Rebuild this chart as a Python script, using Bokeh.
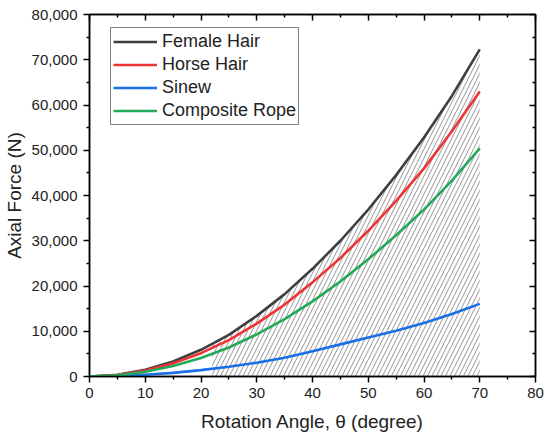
from bokeh.plotting import figure
from bokeh.models import (LinearAxis, NumeralTickFormatter, Range1d, Legend, LegendItem,
                          FixedTicker, CustomJSTickFormatter)
from bokeh.embed import file_html
from bokeh.resources import INLINE
import numpy as np

angle = [0, 5, 10, 15, 20, 25, 30, 35, 40, 45, 50, 55, 60, 65, 70]
female_hair = [0, 380, 1500, 3300, 5900, 9200, 13400, 18200, 23800, 30000, 36900, 44500, 52800, 62000, 72300]
horse_hair = [0, 330, 1300, 2900, 5150, 8050, 11700, 15900, 20800, 26200, 32200, 38800, 46000, 54200, 63000]
sinew = [0, 90, 380, 800, 1400, 2150, 3050, 4150, 5600, 7100, 8600, 10100, 11800, 13800, 16050]
composite_rope = [0, 260, 1030, 2300, 4100, 6400, 9300, 12700, 16600, 21000, 25900, 31200, 36900, 43300, 50400]
hatch_start = 22
x_ticks = [0, 10, 20, 30, 40, 50, 60, 70, 80]
y_ticks = [0, 10000, 20000, 30000, 40000, 50000, 60000, 70000, 80000]
names = ["Female Hair", "Horse Hair", "Sinew", "Composite Rope"]
colors = ["#3f3f3f", "#ee3434", "#1a6ee6", "#24a85a"]

FONT = "Liberation Sans"

p = figure(frame_width=446, frame_height=362, output_backend="svg", toolbar_location=None,
           x_range=Range1d(0, 80), y_range=Range1d(0, 80000),
           min_border_left=83, min_border_right=13, min_border_top=14, min_border_bottom=57)
p.xgrid.visible = False
p.ygrid.visible = False
p.outline_line_color = "black"
p.outline_line_width = 1.5

# hatched region under the female hair curve
hx = [hatch_start] + [a for a in angle if a > hatch_start]
hy = list(np.interp(hx, angle, female_hair))
p.varea(x=hx, y1=[0] * len(hx), y2=hy, fill_alpha=0, hatch_pattern="/",
        hatch_color="#666666", hatch_weight=0.7, hatch_scale=9)

series = [female_hair, horse_hair, sinew, composite_rope]
renderers = []
for ys, c in zip(series, colors):
    r = p.line(angle, ys, line_color=c, line_width=2.6, line_join="round")
    renderers.append(r)

for ax in (p.xaxis[0], p.yaxis[0]):
    ax.axis_line_width = 1.5
    ax.major_tick_line_width = 1.5
    ax.minor_tick_line_width = 1.5
    ax.major_tick_out = 6
    ax.major_tick_in = 0
    ax.minor_tick_out = 3
    ax.minor_tick_in = 0
    ax.major_label_text_font = FONT
    ax.major_label_text_font_size = "15px"
    ax.major_label_text_color = "#222222"
    ax.axis_label_text_font = FONT
    ax.axis_label_text_font_size = "19px"
    ax.axis_label_text_font_style = "normal"
    ax.axis_label_text_color = "#222222"

p.xaxis[0].ticker = FixedTicker(ticks=x_ticks, minor_ticks=[v + 5 for v in x_ticks[:-1]])
p.yaxis[0].ticker = FixedTicker(ticks=y_ticks, minor_ticks=[v + 5000 for v in y_ticks[:-1]])
p.yaxis[0].formatter = NumeralTickFormatter(format="0,0")
p.xaxis[0].axis_label = "Rotation Angle, θ (degree)"
p.yaxis[0].axis_label = "Axial Force (N)"
p.xaxis[0].major_label_standoff = 5
p.yaxis[0].major_label_standoff = 6
p.xaxis[0].axis_label_standoff = 10
p.yaxis[0].axis_label_standoff = 4

blank = CustomJSTickFormatter(code="return '';")
top = LinearAxis(ticker=FixedTicker(ticks=x_ticks, minor_ticks=[v + 5 for v in x_ticks[:-1]]),
                 formatter=blank, major_tick_in=6, major_tick_out=0,
                 minor_tick_in=3, minor_tick_out=0, axis_line_width=1.5,
                 major_tick_line_width=1.5, minor_tick_line_width=1.5, major_label_standoff=0)
right = LinearAxis(ticker=FixedTicker(ticks=y_ticks, minor_ticks=[v + 5000 for v in y_ticks[:-1]]),
                   formatter=blank, major_tick_in=6, major_tick_out=0,
                   minor_tick_in=3, minor_tick_out=0, axis_line_width=1.5,
                   major_tick_line_width=1.5, minor_tick_line_width=1.5, major_label_standoff=0)
p.add_layout(top, "above")
p.add_layout(right, "right")

legend = Legend(items=[LegendItem(label=n, renderers=[r]) for n, r in zip(names, renderers)],
                location=(21, 251))
legend.label_text_font = FONT
legend.label_text_font_size = "18px"
legend.label_text_color = "#222222"
legend.glyph_width = 44
legend.glyph_height = 23
legend.label_height = 23
legend.spacing = 0
legend.label_standoff = 5
legend.padding = 2
legend.margin = 0
legend.border_line_color = "black"
legend.border_line_width = 1
legend.background_fill_alpha = 1
p.add_layout(legend, "center")

open("out.html", "w").write(file_html(p, INLINE))
